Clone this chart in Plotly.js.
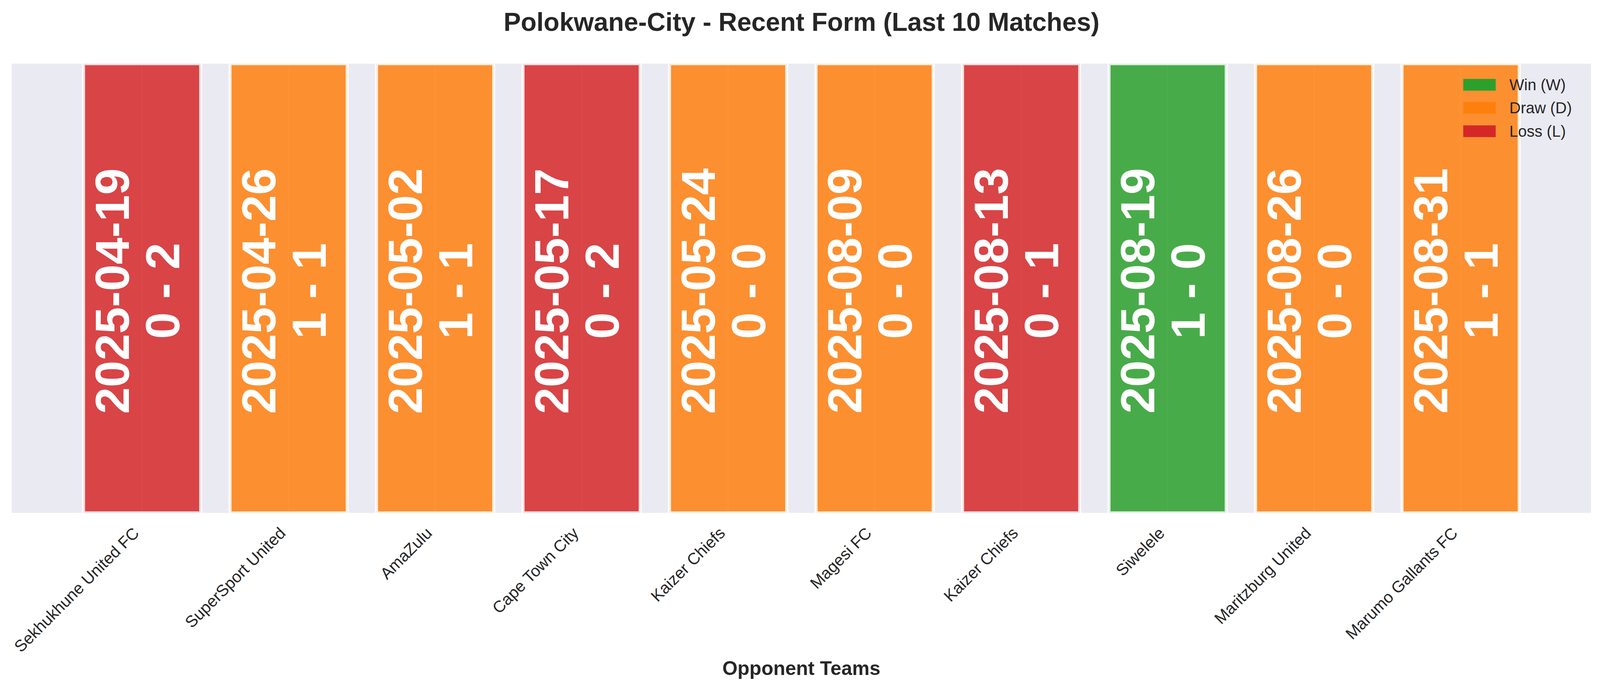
<!DOCTYPE html>
<html>
<head>
<meta charset="utf-8">
<script src="https://cdn.plot.ly/plotly-3.0.1.min.js"></script>
<style>html,body{margin:0;padding:0;background:#fff;}#chart{width:4104px;height:1769px;}</style>
</head>
<body>
<div id="chart"></div>
<script>
// ---- data ----
var opponents = ["Sekhukhune United FC", "SuperSport United", "AmaZulu", "Cape Town City", "Kaizer Chiefs",
                 "Magesi FC", "Kaizer Chiefs", "Siwelele", "Maritzburg United", "Marumo Gallants FC"];
var matchDates = ["2025-04-19", "2025-04-26", "2025-05-02", "2025-05-17", "2025-05-24",
                  "2025-08-09", "2025-08-13", "2025-08-19", "2025-08-26", "2025-08-31"];
var scores = ["0 - 2", "1 - 1", "1 - 1", "0 - 2", "0 - 0", "0 - 0", "0 - 1", "1 - 0", "0 - 0", "1 - 1"];
var results = ["L", "D", "D", "L", "D", "D", "L", "W", "D", "D"];
var barValues = [1, 1, 1, 1, 1, 1, 1, 1, 1, 1];
var matchIndex = [0, 1, 2, 3, 4, 5, 6, 7, 8, 9];
var legendKeys = ["W", "D", "L"];
var legendLabels = ["Win (W)", "Draw (D)", "Loss (L)"];

// ---- styles ----
var fillColors = {W: "rgba(44,160,44,0.85)", D: "rgba(255,127,14,0.85)", L: "rgba(214,39,40,0.85)"};
var solidColors = {W: "#2ca02c", D: "#ff7f0e", L: "#d62728"};
var FONT = "Liberation Sans, Arial, Helvetica, sans-serif";
var TXT = "#262626";

var W = 4104, H = 1769;
var M = {l: 30, r: 31, t: 163, b: 456};
var plotW = W - M.l - M.r, plotH = H - M.t - M.b;
function px2paperX(px) { return (px - M.l) / plotW; }
function px2paperY(py) { return (H - M.b - py) / plotH; }

var trace = {
  type: "bar",
  x: matchIndex,
  y: barValues,
  width: 0.8,
  marker: {
    color: results.map(function (r) { return fillColors[r]; }),
    line: {color: "rgba(255,255,255,0.8)", width: 8}
  },
  hoverinfo: "skip",
  showlegend: false
};

var annotations = [];
for (var i = 0; i < matchIndex.length; i++) {
  annotations.push({
    x: matchIndex[i], y: 0.5, xref: "x", yref: "y",
    text: matchDates[i], showarrow: false, textangle: -90,
    xshift: -77, yshift: -7,
    font: {family: FONT, size: 123, color: "white", weight: "bold"}
  });
  annotations.push({
    x: matchIndex[i], y: 0.5, xref: "x", yref: "y",
    text: scores[i], showarrow: false, textangle: -90,
    xshift: 52, yshift: -7,
    font: {family: FONT, size: 123, color: "white", weight: "bold"}
  });
}

// legend (patches + labels)
var shapes = [];
var legendRowY = [217, 276, 336];
for (var k = 0; k < legendKeys.length; k++) {
  shapes.push({
    type: "rect", xref: "paper", yref: "paper",
    x0: px2paperX(3746), x1: px2paperX(3829),
    y0: px2paperY(legendRowY[k] + 15), y1: px2paperY(legendRowY[k] - 15),
    fillcolor: solidColors[legendKeys[k]], line: {width: 0}
  });
  annotations.push({
    x: px2paperX(3862), y: px2paperY(legendRowY[k]), xref: "paper", yref: "paper",
    xanchor: "left", yanchor: "middle", showarrow: false,
    text: legendLabels[k],
    font: {family: FONT, size: 40, color: TXT}
  });
}

var layout = {
  width: W, height: H,
  margin: M,
  paper_bgcolor: "white",
  plot_bgcolor: "#EAEAF2",
  title: {
    text: "Polokwane-City - Recent Form (Last 10 Matches)",
    font: {family: FONT, size: 66, color: TXT, weight: "bold"},
    x: 0.5, xanchor: "center", y: 1 - 56 / H, yanchor: "middle"
  },
  xaxis: {
    range: [-0.89, 9.89],
    tickmode: "array",
    tickvals: matchIndex,
    ticktext: opponents,
    tickangle: -45,
    tickfont: {family: FONT, size: 41.7, color: TXT},
    ticklabelstandoff: 18,
    ticklabelshift: -20,
    ticks: "",
    showgrid: true, gridcolor: "white", gridwidth: 3.5,
    zeroline: false, showline: false,
    automargin: false,
    title: {text: "Opponent Teams", font: {family: FONT, size: 50, color: TXT, weight: "bold"}, standoff: 15}
  },
  yaxis: {
    range: [0, 1],
    showticklabels: false, showgrid: false, zeroline: false, showline: false, ticks: ""
  },
  bargap: 0.2,
  showlegend: false,
  shapes: shapes,
  annotations: annotations
};

Plotly.newPlot("chart", [trace], layout, {displayModeBar: false, staticPlot: true});
</script>
</body>
</html>
